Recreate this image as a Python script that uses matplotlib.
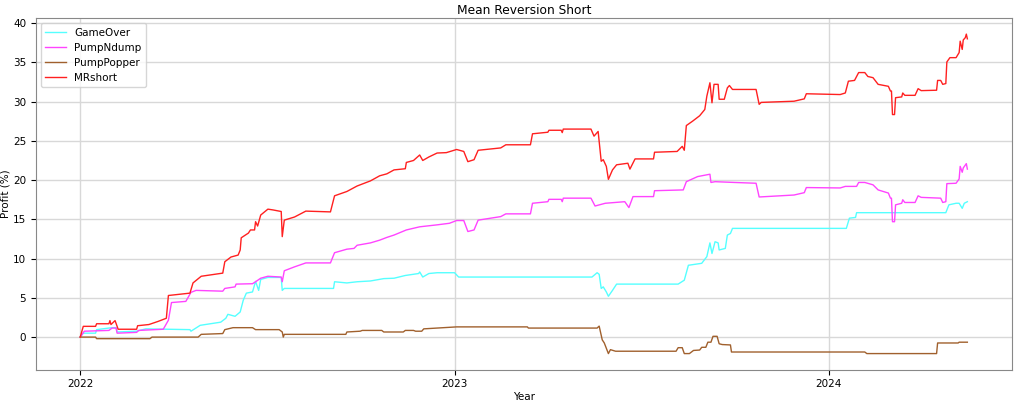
import pandas as pd
import matplotlib
matplotlib.use("Agg")
import matplotlib.pyplot as plt
import matplotlib.dates as mdates

# cumulative profit (%) per strategy
# x = days since 2022-01-01, y = profit in %
start = pd.Timestamp("2022-01-01")

gameover_days = [0, 3, 15, 16, 31, 35, 36, 55, 64, 107, 108, 117, 137, 142, 144, 151, 156, 159, 162,
                 168, 171, 174, 176, 183, 196, 197, 199, 247, 248, 260, 270, 283, 296, 306, 317, 330,
                 331, 334, 340, 348, 365, 369, 499, 504, 506, 508, 510, 513, 515, 519, 523, 583, 589,
                 593, 606, 611, 614, 616, 619, 622, 623, 629, 631, 634, 636, 747, 750, 756, 757, 844,
                 847, 854, 857, 860, 862, 865]
gameover = [0, 0.5, 0.5, 0.95, 1.2, 1.2, 0.65, 0.75, 1.05, 0.95, 0.75, 1.5, 1.9, 2.4, 2.9, 2.65, 3.2,
            4.7, 5.6, 5.75, 7.1, 5.95, 7.35, 7.6, 7.6, 5.95, 6.2, 6.2, 7.05, 6.9, 7.05, 7.15, 7.45, 7.5,
            7.85, 8.1, 8.3, 7.65, 8.1, 8.2, 8.2, 7.65, 7.65, 8.2, 8.0, 6.2, 6.4, 5.75, 5.2, 5.95, 6.75,
            6.75, 7.25, 9.15, 9.4, 10.25, 12.0, 10.65, 12.15, 12.0, 11.1, 11.3, 13.0, 13.2, 13.85,
            13.85, 15.15, 15.25, 15.85, 15.85, 16.85, 17.05, 17.05, 16.4, 17.05, 17.25]

pumpndump_days = [0, 4, 28, 31, 35, 36, 55, 57, 81, 86, 89, 103, 108, 113, 139, 141, 151, 152, 168,
                  171, 176, 183, 196, 197, 199, 209, 220, 244, 248, 260, 267, 270, 283, 292, 299, 306,
                  318, 331, 348, 360, 367, 374, 378, 384, 388, 410, 415, 439, 441, 456, 457, 469, 470,
                  471, 498, 502, 512, 531, 535, 539, 559, 560, 588, 591, 602, 614, 615, 619, 638, 659,
                  662, 696, 706, 708, 741, 746, 757, 759, 765, 773, 778, 788, 790, 791, 792, 794, 795,
                  801, 802, 804, 814, 817, 820, 839, 841, 844, 845, 854, 857, 858, 860, 861, 864, 865]
pumpndump = [0, 0.75, 0.85, 1.15, 1.15, 0.5, 0.6, 0.85, 1.0, 2.15, 4.4, 4.55, 5.7, 5.95, 5.85, 6.2,
             6.4, 6.75, 6.8, 7.05, 7.5, 7.75, 7.65, 7.05, 8.45, 8.95, 9.45, 9.45, 10.75, 11.2, 11.3,
             11.7, 12.0, 12.35, 12.7, 13.0, 13.65, 14.05, 14.3, 14.5, 14.85, 14.85, 13.45, 13.65, 14.9,
             15.35, 15.7, 15.7, 17.05, 17.25, 17.55, 17.55, 17.25, 17.7, 17.7, 16.7, 17.05, 17.25, 16.5,
             17.9, 17.9, 18.65, 18.75, 19.8, 20.45, 20.75, 19.7, 19.8, 19.7, 19.6, 17.85, 18.1, 18.4,
             19.05, 19.0, 19.2, 19.2, 19.7, 19.7, 19.4, 18.75, 18.35, 17.7, 17.7, 14.7, 14.7, 16.85,
             17.05, 17.5, 17.15, 17.15, 18.0, 17.8, 17.7, 17.15, 17.25, 19.55, 19.6, 20.15, 21.75,
             21.0, 21.55, 22.1, 21.4]

pumppopper_days = [0, 15, 16, 68, 70, 115, 118, 139, 141, 149, 168, 171, 194, 197, 198, 199, 259, 260,
                   273, 275, 294, 296, 315, 317, 325, 327, 333, 335, 367, 436, 437, 504, 506, 509, 511,
                   515, 517, 522, 581, 583, 587, 589, 594, 598, 604, 606, 610, 612, 615, 617, 621, 623,
                   626, 634, 635, 765, 767, 835, 836, 856, 857, 865]
pumppopper = [0, 0, -0.2, -0.2, 0, 0, 0.35, 0.45, 0.95, 1.2, 1.2, 0.95, 0.95, 0.65, 0, 0.35, 0.35,
              0.65, 0.75, 0.85, 0.85, 0.65, 0.65, 0.85, 0.85, 0.75, 0.75, 1.05, 1.3, 1.3, 1.15, 1.15,
              1.4, -0.35, -0.75, -2.1, -1.6, -1.8, -1.8, -1.35, -1.35, -2.1, -2.1, -1.7, -1.65, -1.3,
              -1.3, -0.65, -0.65, 0.1, 0.1, -0.85, -0.95, -1.0, -1.9, -1.9, -2.1, -2.1, -0.75, -0.75,
              -0.65, -0.65]

mrshort_days = [0, 3, 15, 16, 28, 29, 30, 34, 37, 55, 56, 67, 76, 84, 86, 107, 110, 118, 139, 141, 147,
                154, 156, 157, 164, 166, 170, 171, 173, 176, 183, 188, 196, 197, 199, 209, 220, 244,
                248, 260, 270, 283, 292, 299, 306, 317, 318, 325, 331, 334, 340, 348, 357, 367, 374,
                378, 384, 388, 410, 415, 439, 441, 456, 457, 469, 470, 471, 498, 501, 505, 508, 510,
                513, 515, 519, 523, 534, 536, 541, 559, 560, 582, 587, 589, 591, 597, 604, 609, 611,
                614, 616, 618, 622, 623, 628, 631, 633, 636, 659, 662, 664, 696, 706, 708, 741, 746,
                749, 755, 759, 765, 768, 773, 778, 788, 790, 791, 792, 794, 795, 801, 802, 804, 814,
                817, 820, 835, 836, 839, 841, 844, 845, 848, 854, 857, 858, 860, 861, 863, 864, 865]
mrshort = [0, 1.37, 1.37, 1.7, 1.7, 2.1, 1.6, 2.1, 1.0, 1.0, 1.45, 1.6, 2.0, 2.4, 5.3, 5.6, 6.9, 7.75,
           8.15, 9.6, 10.2, 10.45, 11.1, 12.65, 13.25, 13.65, 13.65, 14.7, 14.15, 15.55, 16.3, 16.2,
           16.0, 12.8, 14.9, 15.3, 16.05, 15.95, 18.0, 18.55, 19.25, 19.9, 20.55, 20.8, 21.3, 21.45,
           22.25, 22.5, 23.2, 22.5, 22.95, 23.45, 23.5, 23.9, 23.65, 22.35, 22.6, 23.8, 24.1, 24.5,
           24.5, 25.9, 26.1, 26.35, 26.35, 26.05, 26.5, 26.5, 25.6, 26.2, 22.4, 22.6, 21.75, 20.1,
           21.3, 21.95, 22.15, 21.4, 22.7, 22.7, 23.55, 23.65, 24.3, 23.8, 26.95, 27.5, 28.2, 29.0,
           30.7, 32.4, 29.85, 32.2, 32.2, 30.3, 30.3, 31.75, 32.05, 31.55, 31.55, 29.65, 29.9, 30.05,
           30.35, 31.0, 30.9, 31.1, 32.6, 32.7, 33.7, 33.7, 33.2, 33.05, 32.2, 31.95, 31.35, 31.35,
           28.35, 28.35, 30.5, 30.6, 31.1, 30.8, 30.8, 31.65, 31.4, 31.45, 32.7, 32.7, 32.2, 32.3,
           35.05, 35.6, 35.6, 36.25, 37.7, 36.65, 37.85, 38.15, 38.6, 38.0]


def to_dates(days):
    return start + pd.to_timedelta(days, unit="D")


fig, ax = plt.subplots(figsize=(10.24, 4.03), dpi=100)
ax.plot(to_dates(gameover_days), gameover, color="#55ffff", lw=1, label="GameOver")
ax.plot(to_dates(pumpndump_days), pumpndump, color="#ff44ff", lw=1, label="PumpNdump")
ax.plot(to_dates(pumppopper_days), pumppopper, color="#a0602d", lw=1, label="PumpPopper")
ax.plot(to_dates(mrshort_days), mrshort, color="#ff2020", lw=1, label="MRshort")

ax.set_title("Mean Reversion Short", fontsize=8.8, pad=3)
ax.set_xlabel("Year", fontsize=7.5, labelpad=2)
ax.set_ylabel("Profit (%)", fontsize=7.5, labelpad=2)
ax.xaxis.set_major_locator(mdates.YearLocator())
ax.xaxis.set_major_formatter(mdates.DateFormatter("%Y"))
ax.tick_params(labelsize=7.5)
ax.grid(True, color="#d8d8d8", lw=1)
for s in ax.spines.values():
    s.set_color("#888888")
ax.legend(loc="upper left", fontsize=7.5)

plt.subplots_adjust(left=0.035, right=0.988, top=0.955, bottom=0.083)
plt.savefig("out.png")
